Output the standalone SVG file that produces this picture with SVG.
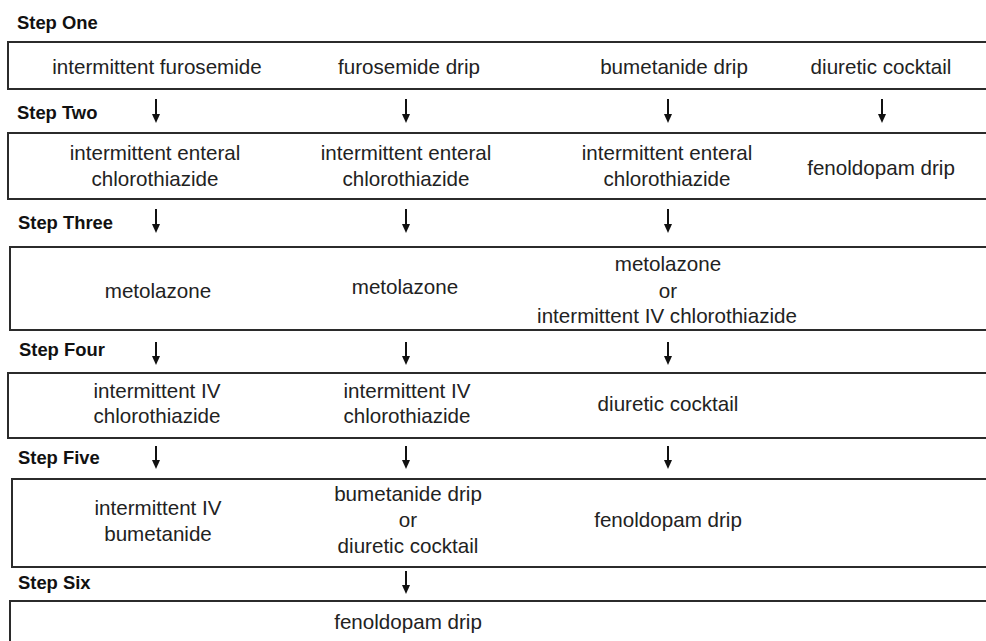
<svg xmlns="http://www.w3.org/2000/svg" width="986" height="641" viewBox="0 0 986 641">
<defs>
<style>
.box{fill:#fff;stroke:#2b2b2b;stroke-width:2}
.t{font-family:"Liberation Sans",Arial,sans-serif;font-size:20.6px;fill:#222;text-anchor:middle}
.s{font-family:"Liberation Sans",Arial,sans-serif;font-size:18.4px;font-weight:bold;fill:#111}
.a{stroke:#111;stroke-width:2;fill:none;marker-end:url(#ah)}
</style>
<marker id="ah" markerWidth="9" markerHeight="8" refX="3" refY="4" orient="auto" markerUnits="userSpaceOnUse" viewBox="0 0 9 8">
<path d="M0,0 L9,4 L0,8 z" fill="#111"/>
</marker>
</defs>
<rect width="986" height="641" fill="#fff"/>

<g id="labels">
<text class="s" x="17" y="29">Step One</text>
<text class="s" x="17" y="119">Step Two</text>
<text class="s" x="18" y="229">Step Three</text>
<text class="s" x="19" y="356">Step Four</text>
<text class="s" x="18" y="464">Step Five</text>
<text class="s" x="18" y="589">Step Six</text>
</g>

<g id="step1">
<rect class="box" x="8" y="42" width="990" height="47"/>
<text class="t" x="157" y="74">intermittent furosemide</text>
<text class="t" x="409" y="74">furosemide drip</text>
<text class="t" x="674" y="74">bumetanide drip</text>
<text class="t" x="881" y="74">diuretic cocktail</text>
</g>

<g id="step2">
<rect class="box" x="8" y="133" width="990" height="66"/>
<text class="t" x="155" y="160">intermittent enteral</text>
<text class="t" x="155" y="186">chlorothiazide</text>
<text class="t" x="406" y="160">intermittent enteral</text>
<text class="t" x="406" y="186">chlorothiazide</text>
<text class="t" x="667" y="160">intermittent enteral</text>
<text class="t" x="667" y="186">chlorothiazide</text>
<text class="t" x="881" y="175">fenoldopam drip</text>
</g>

<g id="step3">
<rect class="box" x="10" y="247" width="990" height="83"/>
<text class="t" x="158" y="298">metolazone</text>
<text class="t" x="405" y="294">metolazone</text>
<text class="t" x="668" y="271">metolazone</text>
<text class="t" x="668" y="298">or</text>
<text class="t" x="667" y="323">intermittent IV chlorothiazide</text>
</g>

<g id="step4">
<rect class="box" x="8" y="373" width="990" height="65"/>
<text class="t" x="157" y="398">intermittent IV</text>
<text class="t" x="157" y="423">chlorothiazide</text>
<text class="t" x="407" y="398">intermittent IV</text>
<text class="t" x="407" y="423">chlorothiazide</text>
<text class="t" x="668" y="411">diuretic cocktail</text>
</g>

<g id="step5">
<rect class="box" x="12" y="479" width="990" height="88"/>
<text class="t" x="158" y="515">intermittent IV</text>
<text class="t" x="158" y="541">bumetanide</text>
<text class="t" x="408" y="501">bumetanide drip</text>
<text class="t" x="408" y="527">or</text>
<text class="t" x="408" y="553">diuretic cocktail</text>
<text class="t" x="668" y="527">fenoldopam drip</text>
</g>

<g id="step6">
<rect class="box" x="10" y="601" width="990" height="60"/>
<text class="t" x="408" y="629">fenoldopam drip</text>
</g>

<g id="connectors">
<line class="a" x1="156" y1="99" x2="156" y2="117"/>
<line class="a" x1="406" y1="99" x2="406" y2="117"/>
<line class="a" x1="668" y1="99" x2="668" y2="117"/>
<line class="a" x1="882" y1="99" x2="882" y2="117"/>
<line class="a" x1="156" y1="209" x2="156" y2="227"/>
<line class="a" x1="406" y1="209" x2="406" y2="227"/>
<line class="a" x1="668" y1="209" x2="668" y2="227"/>
<line class="a" x1="156" y1="342" x2="156" y2="359"/>
<line class="a" x1="406" y1="342" x2="406" y2="359"/>
<line class="a" x1="668" y1="342" x2="668" y2="359"/>
<line class="a" x1="156" y1="446" x2="156" y2="463"/>
<line class="a" x1="406" y1="446" x2="406" y2="463"/>
<line class="a" x1="668" y1="446" x2="668" y2="463"/>
<line class="a" x1="406" y1="571" x2="406" y2="588"/>
</g>
</svg>
